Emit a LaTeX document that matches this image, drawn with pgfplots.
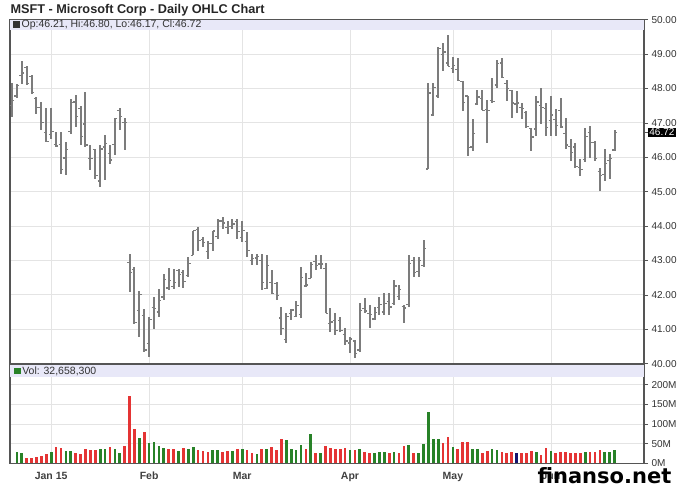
\documentclass[border=0pt]{standalone}
\usepackage{fontspec}
\setmainfont{Liberation Sans}
\newfontfamily\wmfont{DejaVu Sans}
\usepackage{pgfplots}
\usepackage{pgfplotstable}
\pgfplotsset{compat=1.18}
\definecolor{barc}{HTML}{7C7C7C}
\definecolor{gridc}{HTML}{E4E4E4}
\definecolor{strip}{HTML}{E8E8F8}
\definecolor{upc}{RGB}{40,130,40}
\definecolor{dnc}{RGB}{228,52,52}
\definecolor{nc}{RGB}{20,20,110}
\definecolor{axc}{HTML}{555555}

\pgfdeclareplotmark{otick}{\pgfpathmoveto{\pgfqpoint{-2.4pt}{0pt}}\pgfpathlineto{\pgfqpoint{0pt}{0pt}}\pgfusepathqstroke}
\pgfdeclareplotmark{ctick}{\pgfpathmoveto{\pgfqpoint{0pt}{0pt}}\pgfpathlineto{\pgfqpoint{2.4pt}{0pt}}\pgfusepathqstroke}

% s: 1 = close up, -1 = close down, 0 = unchanged, 9 = no volume bar shown
\pgfplotstableread{
i o h l c v s
-8 47.50 48.15 47.17 47.66 0 9
-7 47.78 48.12 47.71 48.08 30 1
-6 48.37 48.80 48.13 48.45 25 1
-5 48.60 48.64 48.10 48.14 14 -1
-4 48.35 48.39 47.85 47.88 14 -1
-3 47.71 47.76 47.27 47.45 17 -1
-2 47.44 47.61 46.80 47.02 19 -1
-1 46.73 47.42 46.45 46.45 24 -1
0 46.66 47.42 46.54 46.76 30 1
1 46.37 46.74 46.30 46.33 41 -1
2 46.38 46.74 45.52 45.65 39 -1
3 45.98 46.45 45.48 46.23 32 1
4 46.75 47.70 46.69 47.59 32 1
5 47.61 47.80 46.88 47.19 27 -1
6 47.42 47.50 46.35 46.60 24 -1
7 46.97 47.90 46.30 46.36 36 -1
8 45.96 46.35 45.62 45.96 34 -1
9 46.22 46.25 45.38 45.48 34 -1
10 45.31 46.35 45.13 46.24 36 1
11 46.30 46.64 45.33 46.39 36 1
12 46.10 46.35 45.80 45.92 41 -1
13 46.38 47.13 46.06 47.13 36 1
14 47.36 47.42 46.79 47.18 25 1
15 47.00 47.13 46.20 47.01 44 -1
16 42.95 43.20 42.08 42.66 171 -1
17 42.74 42.81 41.16 41.19 86 -1
18 41.55 42.10 40.78 42.01 64 1
19 41.39 41.58 40.34 40.40 79 -1
20 40.59 41.36 40.20 41.28 51 1
21 41.63 41.94 41.02 41.60 54 1
22 41.50 42.18 41.36 41.84 44 1
23 41.94 42.62 41.84 42.45 40 1
24 42.20 42.78 42.13 42.41 36 -1
25 42.24 42.76 42.18 42.36 36 -1
26 42.70 42.76 42.23 42.60 32 1
27 42.65 42.72 42.20 42.38 38 -1
28 42.56 43.10 42.52 42.92 36 1
29 43.15 43.87 43.15 43.87 41 1
30 43.90 43.97 43.29 43.58 34 -1
31 43.62 43.68 43.39 43.53 31 -1
32 43.27 43.58 43.05 43.50 30 -1
33 43.50 43.87 43.29 43.86 33 1
34 43.70 44.21 43.63 44.15 35 1
35 44.15 44.26 43.92 44.09 29 -1
36 43.95 44.16 43.78 43.99 32 -1
37 43.99 44.21 43.92 44.06 32 1
38 44.13 44.21 43.63 43.85 36 -1
39 43.67 44.16 43.53 43.88 36 1
40 43.56 43.83 43.10 43.28 34 -1
41 43.01 43.20 42.86 43.06 25 -1
42 43.07 43.20 42.88 43.11 23 1
43 43.00 43.20 42.13 42.36 36 -1
44 42.19 43.15 42.18 42.85 36 1
45 42.35 42.71 42.03 42.03 41 -1
46 42.32 42.37 41.84 41.98 34 -1
47 41.33 41.66 40.83 41.02 62 -1
48 40.70 41.46 40.59 41.38 59 1
49 41.47 41.60 41.27 41.56 36 1
50 41.37 41.83 41.35 41.70 34 1
51 41.43 42.82 41.32 42.50 46 1
52 42.26 42.63 42.24 42.29 36 -1
53 42.48 42.96 42.48 42.88 75 1
54 42.96 43.16 42.72 42.86 25 -1
55 42.90 43.16 42.76 42.90 25 1
56 42.77 42.92 41.46 41.46 44 -1
57 41.17 41.61 40.93 41.21 38 -1
58 41.25 41.46 40.83 40.97 37 -1
59 41.25 41.36 40.93 40.96 37 -1
60 40.86 41.03 40.54 40.66 38 -1
61 40.60 40.79 40.30 40.72 35 1
62 40.66 40.69 40.16 40.29 35 -1
63 40.40 41.75 40.35 41.55 37 1
64 41.61 41.90 41.46 41.53 30 -1
65 41.46 41.71 41.03 41.42 25 -1
66 41.30 41.66 41.27 41.48 25 1
67 41.63 41.95 41.42 41.72 28 1
68 41.50 42.06 41.42 41.76 30 1
69 41.80 42.06 41.42 41.65 27 -1
70 41.76 42.43 41.71 42.26 28 1
71 41.95 42.29 41.85 42.16 25 -1
72 41.67 41.71 41.17 41.62 44 -1
73 41.73 43.16 41.66 42.91 46 1
74 43.00 43.11 42.53 42.64 26 -1
75 42.67 43.11 42.53 42.99 26 1
76 42.85 43.59 42.82 43.34 49 1
77 45.66 48.16 45.65 47.87 131 1
78 47.23 48.16 47.20 48.03 62 1
79 47.78 49.22 47.73 49.16 62 1
80 48.98 49.32 48.50 49.06 51 -1
81 48.74 49.56 48.64 48.64 66 -1
82 48.58 48.93 48.45 48.66 42 1
83 48.56 48.88 48.21 48.24 36 -1
84 48.20 48.21 47.34 47.60 53 -1
85 47.78 47.78 46.04 46.28 54 -1
86 46.30 47.10 46.18 46.70 36 1
87 47.55 47.97 47.53 47.75 36 1
88 47.70 47.97 47.37 47.37 27 -1
89 47.38 47.68 46.43 47.35 32 -1
90 47.65 48.31 47.58 47.63 36 1
91 48.10 48.84 48.02 48.72 34 1
92 48.74 48.88 48.31 48.31 29 -1
93 48.15 48.26 47.63 48.01 27 -1
94 47.95 47.97 47.15 47.58 28 -1
95 47.55 47.92 47.29 47.58 25 0
96 47.45 47.58 47.10 47.42 25 -1
97 47.30 47.34 46.86 46.90 27 -1
98 46.83 46.86 46.18 46.59 32 -1
99 46.82 47.78 46.62 47.61 29 1
100 47.50 48.02 46.96 47.45 21 -1
101 47.43 47.58 46.62 46.86 38 -1
102 47.06 47.78 46.62 47.23 32 1
103 47.10 47.39 46.62 46.92 25 -1
104 47.37 47.73 46.86 46.88 30 -1
105 46.70 47.15 46.23 46.36 29 -1
106 46.31 46.52 45.89 46.14 27 -1
107 46.30 46.43 45.70 45.73 27 -1
108 45.70 45.94 45.46 45.65 27 -1
109 45.93 46.86 45.85 46.61 30 1
110 46.71 46.91 45.99 46.44 28 -1
111 46.42 46.47 45.89 45.97 28 -1
112 45.58 45.70 45.03 45.48 34 -1
113 45.51 46.23 45.32 45.83 30 1
114 45.91 46.09 45.37 45.97 28 1
115 46.21 46.80 46.17 46.72 32.66 1
}\ohlc

\pgfplotsset{
  panel/.style={
    scale only axis, width=634pt, anchor=south west,
    xmin=-8.4, xmax=121.0,
    xtick={0,20,39,61,82,102},
    xmajorgrids, ymajorgrids,
    grid style={gridc, line width=0.8pt},
    axis line style={axc, line width=1.1pt},
    ytick pos=right, yticklabel pos=right,
    tick align=outside, major tick length=4pt,
    xtick style={draw=none},
    ytick style={axc, line width=0.6pt},
    tick label style={font=\fontsize{10}{11}\selectfont, text=black!80},
    /pgf/number format/assume math mode=true,
  }
}

\begin{document}
\begin{tikzpicture}
\useasboundingbox (0,0) rectangle (688pt,503pt);
\node[anchor=base west, font=\bfseries\fontsize{12.7}{14}\selectfont, text=black!85] at (7pt,489pt) {MSFT - Microsoft Corp - Daily OHLC Chart};

% price panel
\begin{axis}[panel, at={(10pt,139.3pt)}, height=344pt,
  ymin=40, ymax=50, ytick={40,41,...,50},
  xticklabels={},
  yticklabel style={/pgf/number format/fixed, /pgf/number format/fixed zerofill, /pgf/number format/precision=2},
  extra y ticks={46.72},
  extra y tick style={grid=none, yticklabel style={fill=black, text=white, inner sep=1.2pt, /pgf/number format/fixed, /pgf/number format/fixed zerofill, /pgf/number format/precision=2}},
]
\fill[strip] (rel axis cs:0,1) rectangle (rel axis cs:1,0.9686);
\node[anchor=west, font=\fontsize{10.5}{12}\selectfont, text=black!80, inner sep=0pt] at (rel axis cs:0.005,0.9843) {\rule{6.5pt}{6.5pt}\,Op:46.21, Hi:46.80, Lo:46.17, Cl:46.72};
\addplot[draw=none, mark=none, forget plot,
  error bars/.cd, y dir=both, y explicit, error mark=none,
  error bar style={draw=barc, line width=2pt, solid}]
  table[x=i, y expr={(\thisrow{h}+\thisrow{l})/2}, y error expr={(\thisrow{h}-\thisrow{l})/2}]{\ohlc};
\addplot[draw=none, mark=otick, mark options={draw=barc, line width=1.2pt}] table[x=i, y=o]{\ohlc};
\addplot[draw=none, mark=ctick, mark options={draw=barc, line width=1.2pt}] table[x=i, y=c]{\ohlc};
\end{axis}

% volume panel
\begin{axis}[panel, at={(10pt,39.7pt)}, height=98.3pt,
  ymin=0, ymax=250, ytick={0,50,100,150,200},
  yticklabels={0M,50M,100M,150M,200M},
  xticklabels={Jan 15,Feb,Mar,Apr,May,Jun},
  xticklabel style={font=\bfseries\fontsize{10.5}{12}\selectfont, text=black!75, yshift=-1pt},
]
\fill[strip] (rel axis cs:0,1) rectangle (rel axis cs:1,0.878);
\node[anchor=west, font=\fontsize{10.5}{12}\selectfont, text=black!80, inner sep=0pt] at (rel axis cs:0.006,0.939) {\textcolor{upc}{\rule{6.5pt}{6.5pt}}\,Vol: 32,658,300};
\addplot[ycomb, mark=none, draw=upc, line width=2.7pt] table[x=i, y expr={\thisrow{s}==1 ? \thisrow{v} : 0}]{\ohlc};
\addplot[ycomb, mark=none, draw=dnc, line width=2.7pt] table[x=i, y expr={\thisrow{s}==-1 ? \thisrow{v} : 0}]{\ohlc};
\addplot[ycomb, mark=none, draw=nc, line width=2.7pt] table[x=i, y expr={\thisrow{s}==0 ? \thisrow{v} : 0}]{\ohlc};
\end{axis}

\node[anchor=base west, font=\wmfont\bfseries\fontsize{21}{24}\selectfont, text=black] at (534pt,19pt) {finanso.net};
\end{tikzpicture}
\end{document}
